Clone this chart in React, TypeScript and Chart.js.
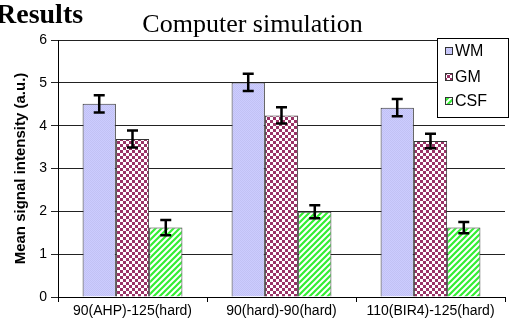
import React, { useEffect, useRef } from "react";
import { Chart, registerables } from "chart.js";

Chart.register(...registerables);

const categories = ["90(AHP)-125(hard)", "90(hard)-90(hard)", "110(BIR4)-125(hard)"];
const seriesNames = ["WM", "GM", "CSF"];
const wmValues = [4.51, 5.01, 4.42];
const wmErrors = [0.2, 0.2, 0.2];
const gmValues = [3.69, 4.24, 3.64];
const gmErrors = [0.2, 0.19, 0.17];
const csfValues = [1.62, 1.99, 1.62];
const csfErrors = [0.18, 0.15, 0.13];
const yTicks = [0, 1, 2, 3, 4, 5, 6];

const SANS = '"Liberation Sans", Arial, sans-serif';
const SERIF = '"Liberation Serif", "Times New Roman", serif';

function makeTile(size: number, draw: (c: CanvasRenderingContext2D) => void) {
  const cv = document.createElement("canvas");
  cv.width = size;
  cv.height = size;
  const c = cv.getContext("2d")!;
  draw(c);
  return c.createPattern(cv, "repeat")!;
}

function wmPattern() {
  return makeTile(2, (c) => {
    c.fillStyle = "#ccccff";
    c.fillRect(0, 0, 2, 2);
    c.fillStyle = "#c2c2f4";
    c.fillRect(0, 0, 1, 1);
    c.fillRect(1, 1, 1, 1);
  });
}

function gmPattern() {
  return makeTile(6, (c) => {
    c.fillStyle = "#ffffff";
    c.fillRect(0, 0, 6, 6);
    c.fillStyle = "#993366";
    c.fillRect(0, 0, 3, 3);
    c.fillRect(3, 3, 3, 3);
  });
}

function csfPattern() {
  return makeTile(6, (c) => {
    c.fillStyle = "#ffffff";
    c.fillRect(0, 0, 6, 6);
    c.strokeStyle = "#33ee33";
    c.lineWidth = 2.2;
    c.beginPath();
    c.moveTo(-1, 7);
    c.lineTo(7, -1);
    c.moveTo(-4, 4);
    c.lineTo(4, -4);
    c.moveTo(2, 10);
    c.lineTo(10, 2);
    c.stroke();
  });
}

const errorBarPlugin = {
  id: "errorBars",
  afterDatasetsDraw(chart: any) {
    const ctx = chart.ctx;
    const yScale = chart.scales.y;
    const errs = [wmErrors, gmErrors, csfErrors];
    const vals = [wmValues, gmValues, csfValues];
    ctx.save();
    ctx.strokeStyle = "#000";
    ctx.lineWidth = 2.5;
    chart.data.datasets.forEach((_: any, di: number) => {
      const meta = chart.getDatasetMeta(di);
      meta.data.forEach((el: any, i: number) => {
        const v = vals[di][i];
        const e = errs[di][i];
        const yt = yScale.getPixelForValue(v + e);
        const yb = yScale.getPixelForValue(v - e);
        const x = el.x;
        ctx.beginPath();
        ctx.moveTo(x, yt);
        ctx.lineTo(x, yb);
        ctx.moveTo(x - 5.5, yt);
        ctx.lineTo(x + 5.5, yt);
        ctx.moveTo(x - 5.5, yb);
        ctx.lineTo(x + 5.5, yb);
        ctx.stroke();
      });
    });
    ctx.restore();
  },
};

const decorPlugin = {
  id: "decor",
  afterDraw(chart: any) {
    const ctx = chart.ctx;
    ctx.save();
    // "Results" heading
    ctx.fillStyle = "#000";
    ctx.font = "bold 28px " + SERIF;
    ctx.textBaseline = "alphabetic";
    ctx.textAlign = "left";
    ctx.fillText("Results", -4, 23);
    // legend
    const bx = 437.5, by = 38.5, bw = 71, bh = 79;
    ctx.fillStyle = "#fff";
    ctx.fillRect(bx, by, bw, bh);
    ctx.strokeStyle = "#000";
    ctx.lineWidth = 1;
    ctx.strokeRect(bx, by, bw, bh);
    const rows = [51, 77, 101];
    ctx.font = "16px " + SANS;
    ctx.textBaseline = "middle";
    chart.data.datasets.forEach((ds: any, i: number) => {
      const y = rows[i];
      ctx.fillStyle = ds.backgroundColor;
      ctx.fillRect(445, y - 4, 8, 8);
      ctx.strokeStyle = "#333";
      ctx.strokeRect(445.5, y - 3.5, 7, 7);
      ctx.fillStyle = "#000";
      ctx.fillText(seriesNames[i], 455, y + 1);
    });
    ctx.restore();
  },
};

export default function App() {
  const ref = useRef<HTMLCanvasElement>(null);
  useEffect(() => {
    const chart = new Chart(ref.current!, {
      type: "bar",
      data: {
        labels: categories,
        datasets: [
          { label: seriesNames[0], data: wmValues, backgroundColor: wmPattern() as any, borderColor: "#333", borderWidth: 1 },
          { label: seriesNames[1], data: gmValues, backgroundColor: gmPattern() as any, borderColor: "#333", borderWidth: 1 },
          { label: seriesNames[2], data: csfValues, backgroundColor: csfPattern() as any, borderColor: "#333", borderWidth: 1 },
        ],
      },
      options: {
        animation: false,
        responsive: false,
        maintainAspectRatio: false,
        layout: { padding: { left: 0, right: 5, top: 0, bottom: 0 } },
        datasets: { bar: { categoryPercentage: 0.67, barPercentage: 1 } },
        plugins: {
          legend: { display: false },
          tooltip: { enabled: false },
          title: {
            display: true,
            text: "Computer simulation",
            color: "#000",
            font: { family: SERIF, size: 26, weight: "normal" as any, lineHeight: 1.1 },
            padding: { top: 11, bottom: 0.4 },
          },
        },
        scales: {
          x: {
            offset: true,
            grid: { display: true, offset: true, drawOnChartArea: false, tickLength: 5, color: "#000" },
            border: { display: true, color: "#000", width: 1 },
            ticks: { color: "#000", font: { family: SANS, size: 14 }, maxRotation: 0, padding: 1 },
            afterFit: (s: any) => { s.height = 30; },
          },
          y: {
            min: 0,
            max: 6,
            afterBuildTicks: (s: any) => { s.ticks = yTicks.map((v) => ({ value: v })); },
            grid: { color: "#222", lineWidth: 1, tickLength: 7 },
            border: { display: true, color: "#000", width: 1 },
            ticks: { color: "#000", font: { family: SANS, size: 14 }, padding: 4 },
            title: {
              display: true,
              text: "Mean signal intensity (a.u.)",
              color: "#000",
              font: { family: SANS, size: 15, weight: "bold" as any },
              padding: { top: 12, bottom: 4 },
            },
            afterFit: (s: any) => { s.width = 58; },
          },
        },
      },
      plugins: [errorBarPlugin, decorPlugin],
    });
    return () => chart.destroy();
  }, []);
  return (
    <div style={{ position: "absolute", left: 0, top: 0, width: 510, height: 327, background: "#fff" }}>
      <canvas ref={ref} width={510} height={327} style={{ display: "block", width: 510, height: 327 }} />
    </div>
  );
}
